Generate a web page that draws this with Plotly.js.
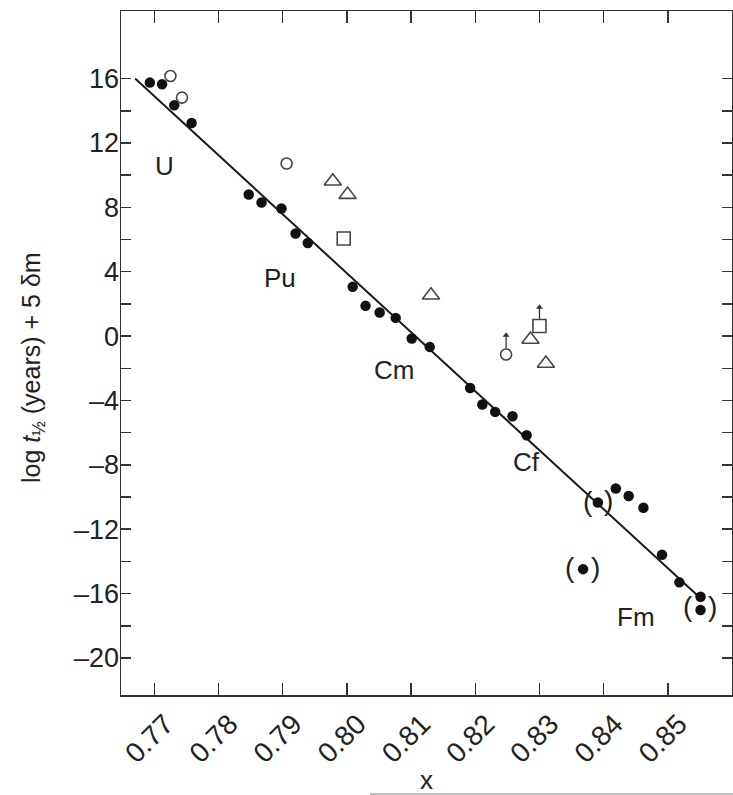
<!DOCTYPE html>
<html>
<head>
<meta charset="utf-8">
<script src="https://cdn.plot.ly/plotly-3.0.1.min.js"></script>
<style>html,body{margin:0;padding:0;background:#fff;}#chart{width:733px;height:795px;}</style>
</head>
<body>
<div id="chart"></div>
<script>
// Filled circles (measured half-lives)
const filledX = [0.7693,0.7712,0.7731,0.7758,0.7847,0.7867,0.7898,0.7920,0.7939,0.8009,0.8029,0.8051,0.8076,0.8101,0.8129,0.8192,0.8211,0.8231,0.8258,0.8280,0.8391,0.8419,0.8439,0.8462,0.8491,0.8518,0.8551,0.8551,0.8368];
const filledY = [15.75,15.65,14.34,13.24,8.80,8.30,7.93,6.37,5.79,3.06,1.88,1.47,1.13,-0.15,-0.67,-3.22,-4.25,-4.71,-4.98,-6.16,-10.34,-9.47,-9.93,-10.67,-13.59,-15.30,-16.20,-17.02,-14.48];
// Open circles
const openCircleX = [0.7725,0.7743,0.7906,0.8248];
const openCircleY = [16.16,14.82,10.72,-1.14];
// Open triangles
const triangleX = [0.7978,0.8001,0.8131,0.8286,0.8310];
const triangleY = [9.62,8.79,2.54,-0.21,-1.70];
// Open squares
const squareX = [0.7995,0.8300];
const squareY = [6.06,0.63];
// Lower-limit arrows (vertical): x, tail y, head y
const arrowX = [0.8248,0.8300];
const arrowTail = [-0.75,1.0];
const arrowHead = [0.05,1.8];
// Fitted line
const fitX = [0.7670,0.8554];
const fitY = [16.0,-16.4];
// Element labels
const elemNames = ["U","Pu","Cm","Cf","Fm"];
const elemX = [0.7716,0.7896,0.8073,0.8280,0.8451];
const elemY = [10.6,3.6,-2.1,-7.85,-17.45];
// Parentheses around uncertain points
const parenText = ["(",")","(",")","(",")"];
const parenX = [0.8375,0.8408,0.8348,0.8387,0.8532,0.8570];
const parenY = [-10.3,-10.2,-14.4,-14.4,-16.8,-16.8];
// Ticks
const yTickVals = [-20,-16,-12,-8,-4,0,4,8,12,16];
const yTickText = ["\u201320","\u201316","\u201312","\u20138","\u20134","0","4","8","12","16"];
const yMinorVals = [-18,-14,-10,-6,-2,2,6,10,14];
const xTickVals = [0.77,0.78,0.79,0.80,0.81,0.82,0.83,0.84,0.85];
const xTickText = ["0.77","0.78","0.79","0.80","0.81","0.82","0.83","0.84","0.85"];

const FONT = "Liberation Sans, Arial, Helvetica, sans-serif";
const TXT = "#222";

// arrow stems built from the arrow arrays
const stemX = [], stemY = [];
arrowX.forEach((x, i) => { stemX.push(x, x, null); stemY.push(arrowTail[i], arrowHead[i], null); });

const traces = [
  {x: fitX, y: fitY, mode: "lines", line: {color: "#1a1a1a", width: 2}, hoverinfo: "skip"},
  {x: filledX, y: filledY, mode: "markers", marker: {symbol: "circle", size: 10.5, color: "#111"}},
  {x: openCircleX, y: openCircleY, mode: "markers", marker: {symbol: "circle-open", size: 11, color: "#444", line: {width: 1.6}}},
  {x: triangleX, y: triangleY, mode: "markers", marker: {symbol: "triangle-up-open", size: 15, color: "#444", line: {width: 1.6}}},
  {x: squareX, y: squareY, mode: "markers", marker: {symbol: "square-open", size: 13, color: "#444", line: {width: 1.6}}},
  {x: stemX, y: stemY, mode: "lines", line: {color: "#333", width: 1.3}},
  {x: arrowX, y: arrowHead, mode: "markers", marker: {symbol: "triangle-up", size: 6, color: "#333"}}
];

const annotations = [];
elemNames.forEach((t, i) => annotations.push({x: elemX[i], y: elemY[i], xref: "x", yref: "y", text: t, showarrow: false, font: {family: FONT, size: 26, color: TXT}}));
parenText.forEach((t, i) => annotations.push({x: parenX[i], y: parenY[i], xref: "x", yref: "y", text: t, showarrow: false, font: {family: FONT, size: 28, color: TXT}}));
annotations.push({x: -0.144, y: 0.478, xref: "paper", yref: "paper", xanchor: "center", yanchor: "middle", text: "log <i>t</i><sub>½</sub> (years) + 5 δm", textangle: -90, showarrow: false, font: {family: FONT, size: 25, color: TXT}});

const layout = {
  width: 733, height: 795,
  margin: {l: 121, r: 1, t: 11, b: 100},
  paper_bgcolor: "#fff", plot_bgcolor: "#fff",
  showlegend: false,
  font: {family: FONT, color: TXT, size: 26},
  xaxis: {
    range: [0.7648, 0.8600], tickvals: xTickVals, ticktext: xTickText, tickangle: -45,
    ticks: "inside", ticklen: 12, tickwidth: 1.5, tickcolor: "#333",
    showline: true, linecolor: "#333", linewidth: 1.5, mirror: "ticks",
    showgrid: false, zeroline: false, ticklabelshift: 11,
    tickfont: {family: FONT, size: 28, color: TXT},
    title: {text: "x", font: {family: FONT, size: 26, color: TXT}, standoff: 2}
  },
  yaxis: {
    range: [-22.3, 20.2], tickvals: yTickVals, ticktext: yTickText,
    ticks: "inside", ticklen: 10, tickwidth: 1.5, tickcolor: "#333",
    minor: {tickvals: yMinorVals, ticks: "inside", ticklen: 10, tickwidth: 1.5, tickcolor: "#333", showgrid: false},
    showline: true, linecolor: "#333", linewidth: 1.5, mirror: "ticks",
    showgrid: false, zeroline: false, ticklabelstandoff: -5,
    tickfont: {family: FONT, size: 27, color: TXT}
  },
  annotations: annotations,
  shapes: [{type: "line", xref: "paper", yref: "paper", x0: 0.4075, x1: 1.0016, y0: -0.1447, y1: -0.1447, line: {color: "#aaa", width: 1.5}}]
};

Plotly.newPlot("chart", traces, layout, {staticPlot: true, displayModeBar: false});
</script>
</body>
</html>
